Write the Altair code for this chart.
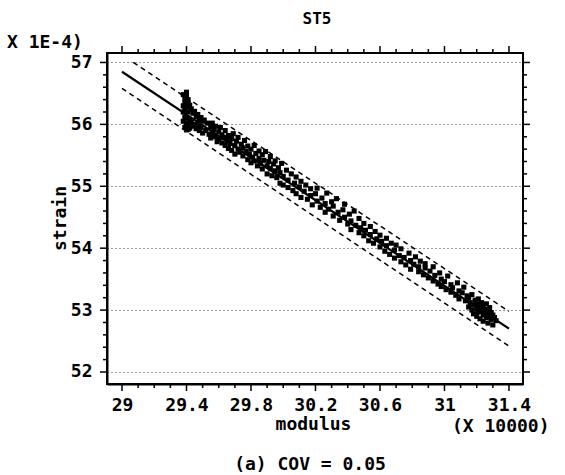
import altair as alt
import pandas as pd

# ---- scatter data: (modulus x1e4, strain x1e-4) ----
left_cluster = [
    (29.38, 56.48), (29.38, 56.05), (29.38, 56.30), (29.38, 56.20),
    (29.39, 56.35), (29.39, 56.12), (29.39, 55.95), (29.39, 56.42), (29.39, 56.25),
    (29.40, 56.52), (29.40, 56.28), (29.40, 56.02), (29.40, 55.91), (29.40, 56.45), (29.40, 56.10),
    (29.41, 56.40), (29.41, 56.20), (29.41, 56.00), (29.41, 56.33), (29.41, 55.92),
    (29.42, 56.31), (29.42, 56.08), (29.42, 55.94), (29.43, 56.25), (29.43, 56.03),
    (29.44, 56.18), (29.44, 55.97), (29.45, 56.21), (29.45, 56.00), (29.46, 56.12),
    (29.46, 55.93), (29.47, 56.16), (29.47, 55.98), (29.48, 56.08), (29.48, 55.90),
    (29.49, 56.11), (29.49, 55.95), (29.50, 56.05), (29.50, 55.86), (29.51, 56.07),
    (29.52, 55.90), (29.53, 56.02), (29.54, 55.84),
]
middle_band = [
    (29.55, 55.96), (29.55, 55.78), (29.56, 56.02), (29.56, 55.85), (29.57, 55.91),
    (29.58, 55.80), (29.58, 55.97), (29.59, 55.72), (29.60, 55.88), (29.60, 55.76),
    (29.61, 55.95), (29.62, 55.70), (29.62, 55.83), (29.63, 55.79), (29.64, 55.90),
    (29.64, 55.66), (29.65, 55.74), (29.66, 55.82), (29.66, 55.61), (29.67, 55.69),
    (29.68, 55.77), (29.68, 55.58), (29.69, 55.85), (29.70, 55.66), (29.70, 55.52),
    (29.71, 55.73), (29.72, 55.60), (29.72, 55.79), (29.73, 55.55), (29.74, 55.68),
    (29.75, 55.49), (29.75, 55.62), (29.76, 55.74), (29.77, 55.56), (29.78, 55.43),
    (29.78, 55.65), (29.79, 55.52), (29.80, 55.60), (29.80, 55.38), (29.81, 55.47),
    (29.82, 55.66), (29.82, 55.41), (29.83, 55.53), (29.84, 55.33), (29.85, 55.45),
    (29.85, 55.57), (29.86, 55.37), (29.87, 55.51), (29.87, 55.28), (29.88, 55.42),
    (29.89, 55.56), (29.90, 55.33), (29.90, 55.20), (29.91, 55.40), (29.92, 55.29),
    (29.92, 55.48), (29.93, 55.17), (29.94, 55.36), (29.95, 55.25), (29.95, 55.41),
    (29.96, 55.14), (29.97, 55.30), (29.98, 55.22), (29.98, 55.05), (29.99, 55.37),
    (30.00, 55.16), (30.00, 55.02), (30.02, 55.26), (30.03, 54.98), (30.03, 55.10),
    (30.05, 55.20), (30.06, 54.93), (30.07, 55.05), (30.08, 55.15), (30.08, 54.88),
    (30.10, 54.99), (30.11, 54.82), (30.11, 55.08), (30.13, 54.92), (30.14, 55.02),
    (30.15, 54.79), (30.17, 54.96), (30.17, 54.85), (30.18, 54.70), (30.20, 54.88),
    (30.21, 54.76), (30.21, 54.97), (30.23, 54.66), (30.24, 54.81), (30.26, 54.72),
    (30.26, 54.58), (30.27, 54.89), (30.28, 54.63), (30.30, 54.75), (30.31, 54.52),
    (30.31, 54.68), (30.33, 54.80), (30.34, 54.58), (30.35, 54.45), (30.37, 54.62),
    (30.38, 54.50), (30.38, 54.71), (30.40, 54.39), (30.41, 54.55), (30.42, 54.44),
    (30.42, 54.30), (30.44, 54.60), (30.45, 54.37), (30.47, 54.25), (30.47, 54.48),
    (30.48, 54.33), (30.50, 54.20), (30.50, 54.40), (30.51, 54.29), (30.53, 54.12),
    (30.54, 54.35), (30.54, 54.22), (30.56, 54.08), (30.57, 54.27), (30.58, 54.15),
    (30.60, 54.02), (30.60, 54.21), (30.61, 54.11), (30.63, 53.95), (30.64, 54.16),
    (30.64, 54.04), (30.66, 53.90), (30.67, 54.08), (30.69, 53.97), (30.69, 53.84),
    (30.70, 54.05), (30.72, 53.88), (30.73, 53.78), (30.73, 53.99), (30.75, 53.85),
    (30.76, 53.73), (30.78, 53.92), (30.79, 53.80), (30.79, 53.66), (30.81, 53.74),
    (30.82, 53.86), (30.84, 53.62), (30.84, 53.70), (30.85, 53.79), (30.87, 53.57),
    (30.88, 53.68), (30.88, 53.75), (30.90, 53.52), (30.91, 53.63), (30.93, 53.70),
    (30.93, 53.47), (30.94, 53.56), (30.96, 53.42), (30.97, 53.60), (30.98, 53.50),
    (30.98, 53.38), (31.00, 53.46), (31.01, 53.33), (31.02, 53.55), (31.04, 53.29),
    (31.04, 53.41), (31.05, 53.36), (31.07, 53.24), (31.08, 53.44), (31.09, 53.31),
    (31.09, 53.18), (31.11, 53.28), (31.12, 53.37), (31.13, 53.15), (31.14, 53.23),
]
right_cluster = [
    (31.15, 53.20), (31.15, 53.05), (31.16, 53.12), (31.17, 53.25), (31.17, 53.00),
    (31.18, 53.08), (31.18, 52.94), (31.19, 53.16), (31.20, 53.02), (31.20, 53.10),
    (31.20, 52.90), (31.21, 53.18), (31.21, 52.97), (31.22, 53.05), (31.22, 52.86),
    (31.23, 53.12), (31.23, 52.99), (31.24, 52.92), (31.24, 53.07), (31.24, 52.82),
    (31.25, 53.01), (31.25, 52.95), (31.26, 53.10), (31.26, 52.88), (31.27, 52.98),
    (31.27, 52.79), (31.28, 53.04), (31.28, 52.91), (31.29, 52.85), (31.29, 52.96),
    (31.30, 52.92), (31.30, 52.76), (31.31, 52.88), (31.32, 52.83),
]

# ---- fitted line and dashed bands ----
fit_x = [29.00, 31.40]
fit_y = [56.85, 52.70]
upper_x = [29.07, 31.40]
upper_y = [57.00, 52.98]
lower_x = [29.00, 31.40]
lower_y = [56.58, 52.42]

# ---- axis ticks ----
x_major_ticks = [29.0, 29.4, 29.8, 30.2, 30.6, 31.0, 31.4]
x_minor_ticks = [29.1, 29.2, 29.3, 29.5, 29.6, 29.7, 29.9, 30.0, 30.1, 30.3, 30.4, 30.5,
                 30.7, 30.8, 30.9, 31.1, 31.2, 31.3]
y_major_ticks = [52, 53, 54, 55, 56, 57]
y_minor_ticks = [52.2, 52.4, 52.6, 52.8, 53.2, 53.4, 53.6, 53.8, 54.2, 54.4, 54.6, 54.8,
                 55.2, 55.4, 55.6, 55.8, 56.2, 56.4, 56.6, 56.8]

pts = left_cluster + middle_band + right_cluster
scatter_df = pd.DataFrame({"modulus": [p[0] for p in pts], "strain": [p[1] for p in pts]})
fit_df = pd.DataFrame({"modulus": fit_x, "strain": fit_y})
upper_df = pd.DataFrame({"modulus": upper_x, "strain": upper_y})
lower_df = pd.DataFrame({"modulus": lower_x, "strain": lower_y})

W, H = 416, 331
FONT = "DejaVu Sans Mono"
FS = 18
xs = alt.Scale(domain=[28.907, 31.487], nice=False, zero=False)
ys = alt.Scale(domain=[51.806, 57.153], nice=False, zero=False)

x_bottom = alt.Axis(
    orient="bottom", values=x_major_ticks, title="modulus", format="~g",
    ticks=False, grid=False, labelPadding=12,
    labelFont=FONT, labelFontSize=FS, labelFontWeight="bold", labelColor="black",
    labelOverlap=False, labelFlush=False,
    titleFont=FONT, titleFontSize=FS, titleFontWeight="bold", titleColor="black",
    titleX=206, titleY=45, titleBaseline="alphabetic", titleAlign="center",
    domainColor="black", domainWidth=2)
y_left = alt.Axis(
    orient="left", values=y_major_ticks, title="strain", format="d",
    ticks=False, labelPadding=15,
    labelFont=FONT, labelFontSize=FS, labelFontWeight="bold", labelColor="black",
    labelOverlap=False, labelFlush=False,
    grid=True, gridColor="black", gridDash=[1, 3], gridWidth=1, gridOpacity=0.8,
    titleFont=FONT, titleFontSize=FS, titleFontWeight="bold", titleColor="black",
    titleAngle=270, titleX=-47, titleY=165, titleAlign="center", titleBaseline="middle",
    domainColor="black", domainWidth=2)

X = alt.X("modulus:Q", scale=xs, axis=x_bottom, title="modulus")
Y = alt.Y("strain:Q", scale=ys, axis=y_left, title="strain")

points = alt.Chart(scatter_df).mark_square(size=26, color="black", opacity=1).encode(x=X, y=Y)


def band_line(df, width, dash=None):
    kw = dict(color="black", strokeWidth=width)
    if dash:
        kw["strokeDash"] = dash
    return alt.Chart(df).mark_line(**kw).encode(x=X, y=Y)


fit = band_line(fit_df, 2.2)
upper = band_line(upper_df, 1.5, [5, 4])
lower = band_line(lower_df, 1.5, [5, 4])


# ---- tick marks on all four sides, placed through the shared scales ----
def x_ticks_layer(values, y0, y1):
    return alt.Chart(pd.DataFrame({"modulus": values})).mark_rule(
        color="black", strokeWidth=1.5).encode(
        x=X, y=alt.value(y0), y2=alt.value(y1))


def y_ticks_layer(values, x0, x1):
    return alt.Chart(pd.DataFrame({"strain": values})).mark_rule(
        color="black", strokeWidth=1.5).encode(
        y=Y, x=alt.value(x0), x2=alt.value(x1))


tick_layers = [
    x_ticks_layer(x_major_ticks, H, H + 7),
    x_ticks_layer(x_minor_ticks, H, H + 4),
    x_ticks_layer(x_major_ticks, 0, -7),
    x_ticks_layer(x_minor_ticks, 0, -4),
    y_ticks_layer(y_major_ticks, 0, -7),
    y_ticks_layer(y_minor_ticks, 0, -4),
    y_ticks_layer(y_major_ticks, W, W + 7),
    y_ticks_layer(y_minor_ticks, W, W + 4),
]


def label(txt, x, y, align="left", size=FS):
    return alt.Chart(pd.DataFrame({"t": [txt]})).mark_text(
        font=FONT, fontSize=size, fontWeight="bold", color="black",
        align=align, baseline="alphabetic").encode(
        x=alt.value(x), y=alt.value(y), text="t:N")


texts = [
    label("ST5", 210, -29, align="center", size=16),
    label("X 1E-4)", -100, -5),
    label("(X 10000)", 345, 379),
    label("(a) COV = 0.05", 203, 417, align="center"),
]

chart = alt.layer(points, fit, upper, lower, *tick_layers, *texts).properties(
    width=W, height=H,
    autosize=alt.AutoSizeParams(type="none"),
    padding={"left": 107, "top": 53, "right": 42, "bottom": 91},
    background="white",
).configure_view(stroke="black", strokeWidth=2).configure_axisX(grid=False)

chart.save("out.html", embed_options={"renderer": "svg", "actions": False})
